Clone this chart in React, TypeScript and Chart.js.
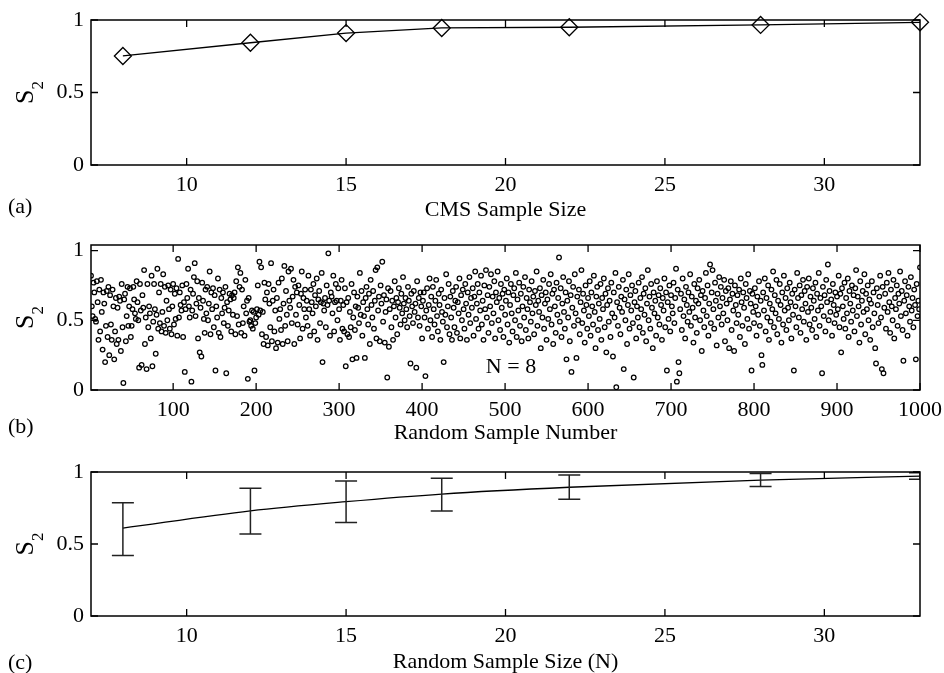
import React, { useEffect, useRef } from "react";
import { Chart, registerables } from "chart.js";

Chart.register(...registerables);

const FONT = "'Liberation Serif', 'Times New Roman', serif";

// Panel (a): CMS sample size vs S2
const cmsSizes = [8, 12, 15, 18, 22, 28, 33];
const cmsS2 = [0.752, 0.843, 0.91, 0.945, 0.95, 0.966, 0.984];

// Panel (c): random sample size vs S2 (mean with min/max bars)
const randSizes = [8, 12, 15, 18, 22, 28, 33];
const randMean = [0.61, 0.73, 0.794, 0.847, 0.894, 0.944, 0.972];
const randLow = [0.42, 0.57, 0.65, 0.73, 0.81, 0.9, 0.95];
const randHigh = [0.787, 0.887, 0.937, 0.956, 0.98, 0.99, 0.995];

// Panel (b): S2 for each of 1000 random samples with N = 8 (read approximately)
const sampleS2 = [
  0.82, 0.60, 0.53, 0.77, 0.70, 0.51, 0.49, 0.78, 0.63, 0.36,
  0.72, 0.42, 0.79, 0.56, 0.29, 0.70, 0.62, 0.20, 0.46, 0.71,
  0.38, 0.74, 0.25, 0.68, 0.47, 0.36, 0.72, 0.60, 0.22, 0.42,
  0.66, 0.33, 0.59, 0.36, 0.67, 0.64, 0.28, 0.76, 0.45, 0.05,
  0.65, 0.69, 0.35, 0.53, 0.74, 0.46, 0.60, 0.73, 0.38, 0.46,
  0.58, 0.74, 0.65, 0.55, 0.51, 0.78, 0.63, 0.50, 0.16, 0.76,
  0.57, 0.18, 0.68, 0.59, 0.86, 0.33, 0.52, 0.15, 0.76, 0.45,
  0.60, 0.55, 0.37, 0.82, 0.17, 0.49, 0.76, 0.58, 0.26, 0.54,
  0.87, 0.44, 0.70, 0.48, 0.76, 0.42, 0.56, 0.83, 0.46, 0.74,
  0.41, 0.64, 0.50, 0.75, 0.58, 0.44, 0.72, 0.40, 0.60, 0.76,
  0.47, 0.69, 0.51, 0.73, 0.39, 0.94, 0.52, 0.70, 0.61, 0.57,
  0.75, 0.38, 0.63, 0.13, 0.58, 0.76, 0.66, 0.87, 0.60, 0.52,
  0.72, 0.06, 0.57, 0.69, 0.81, 0.91, 0.53, 0.62, 0.78, 0.37,
  0.66, 0.27, 0.59, 0.24, 0.77, 0.64, 0.51, 0.41, 0.72, 0.55,
  0.74, 0.50, 0.62, 0.85, 0.40, 0.70, 0.58, 0.73, 0.45, 0.68,
  0.14, 0.60, 0.52, 0.80, 0.41, 0.72, 0.38, 0.66, 0.55, 0.70,
  0.48, 0.59, 0.74, 0.12, 0.63, 0.46, 0.57, 0.69, 0.65, 0.42,
  0.68, 0.54, 0.66, 0.70, 0.40, 0.78, 0.53, 0.88, 0.47, 0.74,
  0.84, 0.41, 0.72, 0.48, 0.60, 0.39, 0.79, 0.55, 0.64, 0.08,
  0.66, 0.49, 0.50, 0.46, 0.57, 0.44, 0.56, 0.14, 0.48, 0.52,
  0.58, 0.75, 0.54, 0.92, 0.57, 0.88, 0.40, 0.56, 0.33, 0.77,
  0.65, 0.38, 0.70, 0.32, 0.76, 0.62, 0.45, 0.91, 0.35, 0.64,
  0.72, 0.42, 0.57, 0.30, 0.66, 0.34, 0.77, 0.51, 0.58, 0.43,
  0.80, 0.33, 0.62, 0.89, 0.46, 0.71, 0.54, 0.35, 0.85, 0.64,
  0.59, 0.87, 0.48, 0.67, 0.79, 0.33, 0.74, 0.54, 0.70, 0.47,
  0.75, 0.61, 0.37, 0.69, 0.85, 0.44, 0.66, 0.58, 0.72, 0.52,
  0.64, 0.46, 0.82, 0.58, 0.39, 0.72, 0.63, 0.55, 0.76, 0.42,
  0.68, 0.60, 0.80, 0.36, 0.65, 0.71, 0.48, 0.63, 0.84, 0.20,
  0.62, 0.57, 0.66, 0.45, 0.75, 0.61, 0.98, 0.64, 0.39, 0.70,
  0.67, 0.55, 0.82, 0.42, 0.63, 0.76, 0.64, 0.50, 0.73, 0.58,
  0.36, 0.64, 0.79, 0.44, 0.61, 0.42, 0.73, 0.17, 0.63, 0.40,
  0.66, 0.38, 0.56, 0.45, 0.76, 0.22, 0.52, 0.70, 0.43, 0.60,
  0.23, 0.67, 0.59, 0.48, 0.84, 0.54, 0.71, 0.39, 0.63, 0.53,
  0.23, 0.66, 0.74, 0.58, 0.47, 0.69, 0.33, 0.79, 0.61, 0.52,
  0.71, 0.44, 0.64, 0.86, 0.37, 0.88, 0.57, 0.67, 0.35, 0.75,
  0.62, 0.92, 0.49, 0.68, 0.34, 0.56, 0.65, 0.09, 0.73, 0.31,
  0.58, 0.71, 0.45, 0.64, 0.36, 0.60, 0.78, 0.52, 0.66, 0.40,
  0.63, 0.73, 0.59, 0.47, 0.69, 0.55, 0.81, 0.62, 0.50, 0.66,
  0.58, 0.45, 0.74, 0.64, 0.53, 0.19, 0.69, 0.60, 0.48, 0.71,
  0.56, 0.62, 0.16, 0.78, 0.52, 0.66, 0.46, 0.70, 0.60, 0.37,
  0.64, 0.70, 0.52, 0.10, 0.57, 0.73, 0.44, 0.61, 0.80, 0.50,
  0.67, 0.38, 0.74, 0.58, 0.47, 0.64, 0.79, 0.53, 0.42, 0.69,
  0.61, 0.36, 0.72, 0.56, 0.49, 0.20, 0.66, 0.54, 0.83, 0.45,
  0.60, 0.76, 0.40, 0.67, 0.52, 0.36, 0.71, 0.59, 0.45, 0.64,
  0.74, 0.41, 0.63, 0.55, 0.80, 0.37, 0.68, 0.50, 0.72, 0.58,
  0.44, 0.76, 0.62, 0.36, 0.70, 0.54, 0.81, 0.48, 0.66, 0.59,
  0.73, 0.39, 0.67, 0.85, 0.51, 0.62, 0.76, 0.44, 0.70, 0.57,
  0.82, 0.47, 0.64, 0.36, 0.75, 0.58, 0.86, 0.52, 0.68, 0.41,
  0.74, 0.60, 0.83, 0.48, 0.67, 0.55, 0.78, 0.37, 0.70, 0.63,
  0.85, 0.50, 0.66, 0.43, 0.76, 0.59, 0.69, 0.38, 0.72, 0.54,
  0.64, 0.80, 0.47, 0.70, 0.34, 0.61, 0.76, 0.55, 0.42, 0.68,
  0.73, 0.50, 0.84, 0.38, 0.65, 0.57, 0.77, 0.46, 0.69, 0.35,
  0.60, 0.74, 0.52, 0.81, 0.43, 0.66, 0.58, 0.37, 0.72, 0.63,
  0.49, 0.78, 0.55, 0.67, 0.40, 0.71, 0.61, 0.85, 0.46, 0.64,
  0.56, 0.73, 0.30, 0.68, 0.52, 0.79, 0.44, 0.62, 0.70, 0.36,
  0.65, 0.51, 0.76, 0.58, 0.83, 0.47, 0.69, 0.33, 0.72, 0.60,
  0.41, 0.77, 0.54, 0.66, 0.95, 0.49, 0.73, 0.38, 0.62, 0.81,
  0.56, 0.44, 0.70, 0.22, 0.64, 0.52, 0.78, 0.35, 0.68, 0.13,
  0.59, 0.74, 0.46, 0.83, 0.55, 0.23, 0.67, 0.50, 0.72, 0.40,
  0.63, 0.86, 0.48, 0.69, 0.57, 0.34, 0.75, 0.61, 0.44, 0.66,
  0.53, 0.78, 0.39, 0.70, 0.60, 0.47, 0.82, 0.56, 0.30, 0.67,
  0.74, 0.43, 0.62, 0.51, 0.76, 0.36, 0.66, 0.58, 0.80, 0.45,
  0.69, 0.27, 0.61, 0.73, 0.49, 0.64, 0.38, 0.77, 0.55, 0.24,
  0.70, 0.52, 0.84, 0.02, 0.63, 0.46, 0.74, 0.59, 0.40, 0.67,
  0.56, 0.79, 0.15, 0.65, 0.50, 0.72, 0.33, 0.61, 0.83, 0.44,
  0.68, 0.57, 0.75, 0.48, 0.09, 0.63, 0.71, 0.37, 0.60, 0.52,
  0.77, 0.45, 0.66, 0.58, 0.81, 0.41, 0.69, 0.54, 0.73, 0.35,
  0.62, 0.86, 0.50, 0.67, 0.44, 0.76, 0.59, 0.30, 0.70, 0.55,
  0.64, 0.39, 0.78, 0.52, 0.68, 0.47, 0.73, 0.61, 0.36, 0.66,
  0.57, 0.80, 0.45, 0.70, 0.14, 0.63, 0.51, 0.75, 0.42, 0.68,
  0.60, 0.55, 0.77, 0.48, 0.66, 0.87, 0.06, 0.72, 0.20, 0.12,
  0.58, 0.69, 0.43, 0.80, 0.53, 0.65, 0.37, 0.74, 0.61, 0.49,
  0.70, 0.56, 0.83, 0.46, 0.67, 0.59, 0.34, 0.76, 0.52, 0.64,
  0.41, 0.73, 0.62, 0.79, 0.50, 0.68, 0.28, 0.71, 0.57, 0.45,
  0.66, 0.84, 0.53, 0.75, 0.39, 0.62, 0.90, 0.48, 0.70, 0.86,
  0.58, 0.44, 0.77, 0.64, 0.32, 0.69, 0.52, 0.81, 0.60, 0.74,
  0.47, 0.66, 0.55, 0.79, 0.35, 0.71, 0.62, 0.50, 0.73, 0.30,
  0.65, 0.78, 0.43, 0.69, 0.57, 0.28, 0.75, 0.61, 0.48, 0.68,
  0.54, 0.72, 0.38, 0.80, 0.63, 0.46, 0.70, 0.59, 0.33, 0.76,
  0.66, 0.51, 0.83, 0.44, 0.71, 0.62, 0.14, 0.69, 0.56, 0.48,
  0.73, 0.60, 0.39, 0.67, 0.54, 0.78, 0.46, 0.64, 0.25, 0.18,
  0.70, 0.57, 0.80, 0.42, 0.66, 0.52, 0.75, 0.36, 0.62, 0.49,
  0.72, 0.58, 0.85, 0.45, 0.68, 0.55, 0.79, 0.40, 0.64, 0.51,
  0.76, 0.61, 0.34, 0.70, 0.47, 0.82, 0.57, 0.66, 0.43, 0.73,
  0.59, 0.50, 0.77, 0.63, 0.37, 0.69, 0.54, 0.14, 0.72, 0.60,
  0.45, 0.84, 0.66, 0.52, 0.75, 0.41, 0.68, 0.58, 0.79, 0.49,
  0.71, 0.62, 0.36, 0.74, 0.56, 0.80, 0.47, 0.67, 0.59, 0.43,
  0.73, 0.64, 0.51, 0.77, 0.38, 0.69, 0.57, 0.84, 0.46, 0.66,
  0.60, 0.12, 0.74, 0.53, 0.68, 0.42, 0.79, 0.63, 0.90, 0.50,
  0.71, 0.56, 0.65, 0.39, 0.76, 0.61, 0.48, 0.70, 0.54, 0.67,
  0.58, 0.82, 0.45, 0.69, 0.27, 0.73, 0.60, 0.51, 0.77, 0.44,
  0.66, 0.55, 0.80, 0.38, 0.71, 0.62, 0.49, 0.75, 0.57, 0.68,
  0.42, 0.73, 0.86, 0.53, 0.67, 0.60, 0.34, 0.78, 0.47, 0.64,
  0.71, 0.56, 0.83, 0.40, 0.69, 0.58, 0.75, 0.50, 0.65, 0.36,
  0.62, 0.78, 0.45, 0.70, 0.55, 0.30, 0.19, 0.73, 0.61, 0.48,
  0.67, 0.82, 0.52, 0.15, 0.74, 0.12, 0.59, 0.69, 0.44, 0.77,
  0.56, 0.84, 0.63, 0.41, 0.72, 0.60, 0.50, 0.79, 0.37, 0.66,
  0.58, 0.75, 0.46, 0.69, 0.62, 0.85, 0.53, 0.71, 0.43, 0.21,
  0.64, 0.78, 0.55, 0.68, 0.39, 0.74, 0.60, 0.49, 0.81, 0.57,
  0.66, 0.45, 0.72, 0.61, 0.22, 0.76, 0.53, 0.64, 0.58, 0.88,
];

const xTicksSize = [10, 15, 20, 25, 30];
const xTicksSample = [100, 200, 300, 400, 500, 600, 700, 800, 900, 1000];
const yTicksS2 = [0, 0.5, 1];

type PanelOpts = {
  label: string;
  labelY: number;
  note?: { text: string; x: number; y: number };
  errorBars?: boolean;
};

function makeFramePlugin(p: PanelOpts) {
  return {
    id: "frame" + p.label,
    afterDatasetsDraw(chart: any) {
      const ctx = chart.ctx;
      const ca = chart.chartArea;
      const xs = chart.scales.x;
      const ys = chart.scales.y;
      ctx.save();
      if (p.errorBars) {
        ctx.save();
        ctx.beginPath();
        ctx.rect(ca.left, ca.top - 2, ca.right - ca.left, ca.bottom - ca.top + 4);
        ctx.clip();
        ctx.strokeStyle = "#222";
        ctx.lineWidth = 1.5;
        const hw = 11;
        for (let i = 0; i < randSizes.length; i++) {
          const x = xs.getPixelForValue(randSizes[i]);
          const yl = ys.getPixelForValue(randLow[i]);
          const yh = ys.getPixelForValue(randHigh[i]);
          ctx.beginPath();
          ctx.moveTo(x, yl);
          ctx.lineTo(x, yh);
          ctx.moveTo(x - hw, yl);
          ctx.lineTo(x + hw, yl);
          ctx.moveTo(x - hw, yh);
          ctx.lineTo(x + hw, yh);
          ctx.stroke();
        }
        ctx.restore();
      }
      // frame
      ctx.strokeStyle = "#000";
      ctx.lineWidth = 1.5;
      ctx.strokeRect(ca.left, ca.top, ca.right - ca.left, ca.bottom - ca.top);
      // inward ticks
      const tl = 7;
      ctx.lineWidth = 1.3;
      ctx.beginPath();
      xs.ticks.forEach((t: any) => {
        const x = xs.getPixelForValue(t.value);
        ctx.moveTo(x, ca.bottom);
        ctx.lineTo(x, ca.bottom - tl);
        ctx.moveTo(x, ca.top);
        ctx.lineTo(x, ca.top + tl);
      });
      ys.ticks.forEach((t: any) => {
        const y = ys.getPixelForValue(t.value);
        ctx.moveTo(ca.left, y);
        ctx.lineTo(ca.left + tl, y);
        ctx.moveTo(ca.right, y);
        ctx.lineTo(ca.right - tl, y);
      });
      ctx.stroke();
      // y label S2
      ctx.fillStyle = "#000";
      ctx.save();
      ctx.translate(33, (ca.top + ca.bottom) / 2);
      ctx.rotate(-Math.PI / 2);
      ctx.font = `26px ${FONT}`;
      const sw = ctx.measureText("S").width;
      ctx.font = `17px ${FONT}`;
      const tw = ctx.measureText("2").width;
      const total = sw + tw;
      ctx.textAlign = "left";
      ctx.textBaseline = "alphabetic";
      ctx.font = `26px ${FONT}`;
      ctx.fillText("S", -total / 2, 0);
      ctx.font = `17px ${FONT}`;
      ctx.fillText("2", -total / 2 + sw, 10);
      ctx.restore();
      // panel label
      ctx.font = `22px ${FONT}`;
      ctx.textAlign = "left";
      ctx.textBaseline = "middle";
      ctx.fillText(p.label, 8, p.labelY);
      if (p.note) {
        ctx.textAlign = "center";
        ctx.fillText(p.note.text, p.note.x, p.note.y);
      }
      ctx.restore();
    },
  };
}

function axes(opts: {
  xMin: number;
  xMax: number;
  xTicks: number[];
  xTitle: string;
  xHeight: number;
  titlePad: number;
  yMax: number;
}) {
  const tickFont = { family: FONT, size: 22 };
  return {
    x: {
      type: "linear" as const,
      min: opts.xMin,
      max: opts.xMax,
      grid: { display: false, drawTicks: false },
      border: { display: false },
      ticks: {
        font: tickFont,
        color: "#000",
        padding: 7,
        maxRotation: 0,
        autoSkip: false,
        callback: (v: any) => String(v),
      },
      afterBuildTicks: (s: any) => {
        s.ticks = opts.xTicks.map((v) => ({ value: v }));
      },
      afterFit: (s: any) => {
        s.height = opts.xHeight;
        s.paddingLeft = 0;
        s.paddingRight = 0;
      },
      title: {
        display: true,
        text: opts.xTitle,
        color: "#000",
        font: { family: FONT, size: 22, lineHeight: 1 },
        padding: { top: 0, bottom: opts.titlePad },
      },
    },
    y: {
      type: "linear" as const,
      min: 0,
      max: opts.yMax,
      grid: { display: false, drawTicks: false },
      border: { display: false },
      ticks: {
        font: tickFont,
        color: "#000",
        padding: 7,
        callback: (v: any) => String(v),
      },
      afterBuildTicks: (s: any) => {
        s.ticks = yTicksS2.map((v) => ({ value: v }));
      },
      afterFit: (s: any) => {
        s.width = 91;
        s.paddingTop = 0;
        s.paddingBottom = 0;
      },
    },
  };
}

const baseOptions = {
  responsive: false,
  animation: false as const,
  events: [] as any[],
  layout: { padding: { top: 20, right: 24, left: 0, bottom: 0 } },
  plugins: { legend: { display: false }, tooltip: { enabled: false } },
};

export default function App() {
  const refA = useRef<HTMLCanvasElement>(null);
  const refB = useRef<HTMLCanvasElement>(null);
  const refC = useRef<HTMLCanvasElement>(null);

  useEffect(() => {
    document.body.style.margin = "0";
    const charts: Chart[] = [];

    charts.push(
      new Chart(refA.current!, {
        type: "line",
        data: {
          datasets: [
            {
              data: cmsSizes.map((x, i) => ({ x, y: cmsS2[i] })),
              borderColor: "#000",
              borderWidth: 1.3,
              pointStyle: "rectRot",
              pointRadius: 8.5,
              pointBorderWidth: 1.3,
              pointBorderColor: "#000",
              pointBackgroundColor: "rgba(0,0,0,0)",
              tension: 0,
              clip: false as any,
            },
          ],
        },
        options: {
          ...baseOptions,
          scales: axes({
            xMin: 7,
            xMax: 33,
            xTicks: xTicksSize,
            xTitle: "CMS Sample Size",
            xHeight: 60,
            titlePad: 4,
            yMax: 1,
          }),
        } as any,
        plugins: [makeFramePlugin({ label: "(a)", labelY: 207 })],
      })
    );

    charts.push(
      new Chart(refB.current!, {
        type: "scatter",
        data: {
          datasets: [
            {
              data: sampleS2.map((y, i) => ({ x: i + 1, y })),
              pointStyle: "circle",
              pointRadius: 2.3,
              pointBorderWidth: 1.25,
              pointBorderColor: "#000",
              pointBackgroundColor: "rgba(0,0,0,0)",
              showLine: false,
            },
          ],
        },
        options: {
          ...baseOptions,
          scales: axes({
            xMin: 1,
            xMax: 1000,
            xTicks: xTicksSample,
            xTitle: "Random Sample Number",
            xHeight: 62,
            titlePad: 7.5,
            yMax: 1.04,
          }),
        } as any,
        plugins: [
          makeFramePlugin({
            label: "(b)",
            labelY: 202,
            note: { text: "N = 8", x: 511, y: 142 },
          }),
        ],
      })
    );

    charts.push(
      new Chart(refC.current!, {
        type: "line",
        data: {
          datasets: [
            {
              data: randSizes.map((x, i) => ({ x, y: randMean[i] })),
              borderColor: "#000",
              borderWidth: 1.3,
              pointRadius: 0,
              tension: 0.4,
              cubicInterpolationMode: "monotone",
            },
          ],
        },
        options: {
          ...baseOptions,
          scales: axes({
            xMin: 7,
            xMax: 33,
            xTicks: xTicksSize,
            xTitle: "Random Sample Size (N)",
            xHeight: 57,
            titlePad: 0,
            yMax: 1,
          }),
        } as any,
        plugins: [makeFramePlugin({ label: "(c)", labelY: 211, errorBars: true })],
      })
    );

    return () => charts.forEach((c) => c.destroy());
  }, []);

  const cs = (top: number): React.CSSProperties => ({
    position: "absolute",
    left: 0,
    top,
    display: "block",
  });

  return (
    <div style={{ position: "relative", width: 944, height: 673, background: "#fff" }}>
      <canvas ref={refA} width={944} height={225} style={cs(0)} />
      <canvas ref={refB} width={944} height={227} style={cs(225)} />
      <canvas ref={refC} width={944} height={221} style={cs(452)} />
    </div>
  );
}
